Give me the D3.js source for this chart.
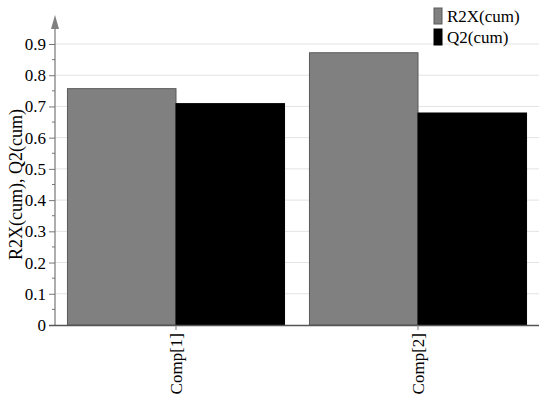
<!DOCTYPE html>
<html>
<head>
<meta charset="utf-8">
<script src="https://cdn.jsdelivr.net/npm/d3@7"></script>
<style>
  body { margin: 0; background: #fff; }
</style>
</head>
<body>
<div id="chart"></div>
<script>
// Chart data
const components = ['Comp[1]', 'Comp[2]'];
const seriesNames = ['R2X(cum)', 'Q2(cum)'];
const r2x = [0.757, 0.872];
const q2 = [0.709, 0.679];
const yTicks = [0, 0.1, 0.2, 0.3, 0.4, 0.5, 0.6, 0.7, 0.8, 0.9];
const seriesColors = ['#808080', '#000000'];

const serifFont = '"Liberation Serif", "Times New Roman", monospace';
const width = 550, height = 405;
const svg = d3.select('#chart').append('svg')
  .attr('width', width)
  .attr('height', height)
  .attr('font-family', serifFont)
  .style('font-family', serifFont);

const plot = { left: 55, right: 539, top: 15, bottom: 325 };

// Scales
const x = d3.scaleBand()
  .domain(components)
  .range([plot.left, plot.right])
  .paddingInner(0.103)
  .paddingOuter(0.0515);

const xInner = d3.scaleBand()
  .domain(seriesNames)
  .range([0, x.bandwidth()]);

const y = d3.scaleLinear()
  .domain([0, 0.9])
  .range([plot.bottom, 44]);

// Gridlines
svg.append('g')
  .selectAll('line')
  .data(yTicks.filter(d => d > 0))
  .join('line')
  .attr('x1', plot.left)
  .attr('x2', plot.right)
  .attr('y1', d => y(d))
  .attr('y2', d => y(d))
  .attr('stroke', '#e3e3e3')
  .attr('stroke-width', 1);

// Bars
const rows = components.map((c, i) => ({ comp: c, values: [r2x[i], q2[i]] }));
const groups = svg.append('g')
  .selectAll('g')
  .data(rows)
  .join('g')
  .attr('transform', d => `translate(${x(d.comp)},0)`);

groups.selectAll('rect')
  .data(d => d.values.map((v, j) => ({ name: seriesNames[j], value: v, j })))
  .join('rect')
  .attr('x', d => xInner(d.name))
  .attr('y', d => y(d.value))
  .attr('width', xInner.bandwidth())
  .attr('height', d => y(0) - y(d.value))
  .attr('fill', d => seriesColors[d.j])
  .attr('stroke', d => d.j === 0 ? '#5a5a5a' : '#000')
  .attr('stroke-width', 1);

// Y axis (major ticks)
const yAxis = svg.append('g')
  .attr('transform', `translate(${plot.left},0)`)
  .call(d3.axisLeft(y).tickValues(yTicks).tickFormat(d => d === 0 ? '0' : d3.format('.1f')(d)).tickSize(6).tickPadding(3))
  .attr('font-family', serifFont);
yAxis.select('.domain').remove();
yAxis.selectAll('.tick line').attr('stroke', '#777');
yAxis.selectAll('.tick text')
  .attr('font-size', 17)
  .attr('fill', '#000');

// Minor ticks
svg.append('g')
  .selectAll('line')
  .data(d3.range(0.05, 0.9, 0.1))
  .join('line')
  .attr('x1', plot.left - 3)
  .attr('x2', plot.left)
  .attr('y1', d => y(d))
  .attr('y2', d => y(d))
  .attr('stroke', '#777');

// Y axis line with arrow
svg.append('line')
  .attr('x1', plot.left).attr('x2', plot.left)
  .attr('y1', plot.bottom).attr('y2', plot.top + 8)
  .attr('stroke', '#777').attr('stroke-width', 1.2);
svg.append('path')
  .attr('d', `M${plot.left},${plot.top} L${plot.left - 4},${plot.top + 14} L${plot.left + 4},${plot.top + 14} Z`)
  .attr('fill', '#808080');

// X axis
const xAxis = svg.append('g')
  .attr('transform', `translate(0,${plot.bottom})`)
  .call(d3.axisBottom(x).tickSize(5).tickPadding(3).tickSizeOuter(0))
  .attr('font-family', serifFont);
xAxis.select('.domain')
  .attr('d', `M${plot.left - 6},0.5H${plot.right}`)
  .attr('stroke', '#555')
  .attr('stroke-width', 1.5);
xAxis.selectAll('.tick')
  .attr('transform', d => `translate(${x(d) + xInner.bandwidth()},0)`);
xAxis.selectAll('.tick line').attr('stroke', '#777');
xAxis.selectAll('.tick text')
  .attr('font-size', 17)
  .attr('fill', '#000')
  .attr('transform', 'rotate(-90)')
  .attr('text-anchor', 'end')
  .attr('x', -8)
  .attr('y', 0)
  .attr('dy', '0.35em');

// Y axis title
svg.append('text')
  .attr('transform', `translate(22,${(plot.bottom + 44) / 2}) rotate(-90)`)
  .attr('text-anchor', 'middle')
  .attr('font-size', 18)
  .text('R2X(cum), Q2(cum)');

// Legend
const legend = svg.append('g')
  .attr('transform', 'translate(434,8)')
  .selectAll('g')
  .data(seriesNames)
  .join('g')
  .attr('transform', (d, i) => `translate(0,${i * 21})`);
legend.append('rect')
  .attr('width', 8)
  .attr('height', 16)
  .attr('fill', (d, i) => seriesColors[i])
  .attr('stroke', (d, i) => i === 0 ? '#5a5a5a' : '#000');
legend.append('text')
  .attr('x', 13)
  .attr('y', 8)
  .attr('dy', '0.35em')
  .attr('font-size', 17)
  .text(d => d);

// Serif font on every label
svg.selectAll('text')
  .attr('font-family', serifFont)
  .style('font-family', serifFont);
</script>
</body>
</html>
